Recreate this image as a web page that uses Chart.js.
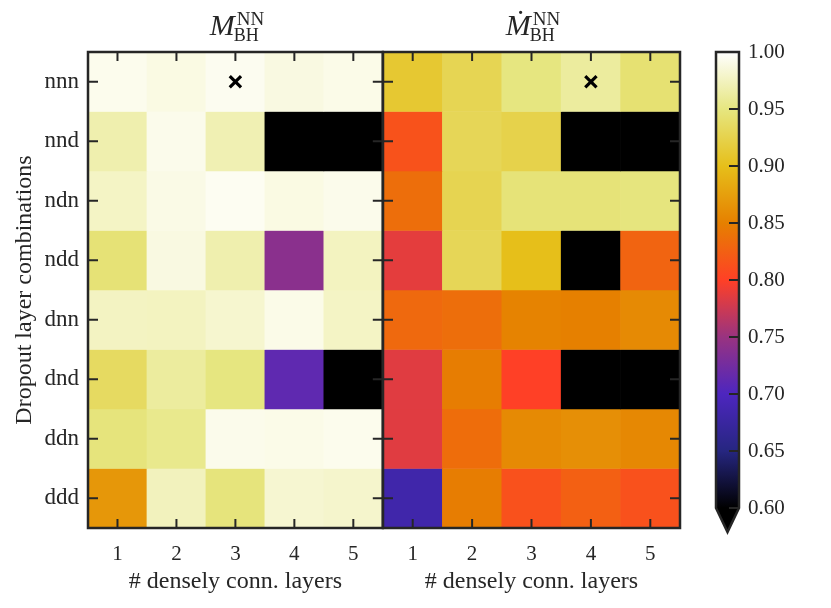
<!doctype html>
<html lang="en">
  <head>
    <title>Dropout heatmaps</title>
    <meta charset="utf-8">
    <style>
        * { margin: 0; padding: 0; box-sizing: border-box; }
        body { background: #fff; width: 831px; height: 608px; overflow: hidden; }
        .panel { position: absolute; top: 0; height: 608px; }
        #massBox { left: 0; width: 394px; }
        #rateBox { left: 360px; width: 340px; }
        #barBox { left: 700px; width: 131px; }
    </style>
  </head>
  <body>
    <div class="panel" id="massBox"><canvas id="massChart"></canvas></div>
    <div class="panel" id="rateBox"><canvas id="rateChart"></canvas></div>
    <div class="panel" id="barBox"><canvas id="barChart"></canvas></div>

    <script src="https://cdn.jsdelivr.net/npm/chart.js@4.4.1/dist/chart.umd.min.js"></script>
    <script>
      // columns = number of dense layers, rows = dropout combination
      const columns = ['1', '2', '3', '4', '5'];
      const rowLabels = ['nnn', 'nnd', 'ndn', 'ndd', 'dnn', 'dnd', 'ddn', 'ddd'];

      // 1-MSE for M_BH (left panel), one array per row
      const massNNN = [0.993, 0.989, 0.994, 0.988, 0.991];
      const massNND = [0.968, 0.992, 0.970, 0.50, 0.50];
      const massNDN = [0.977, 0.990, 0.995, 0.989, 0.992];
      const massNDD = [0.945, 0.988, 0.968, 0.740, 0.975];
      const massDNN = [0.976, 0.975, 0.981, 0.991, 0.977];
      const massDND = [0.935, 0.962, 0.950, 0.712, 0.50];
      const massDDN = [0.948, 0.955, 0.992, 0.991, 0.993];
      const massDDD = [0.868, 0.974, 0.948, 0.982, 0.980];

      // 1-MSE for Mdot_BH (right panel)
      const rateNNN = [0.912, 0.928, 0.950, 0.962, 0.943];
      const rateNND = [0.814, 0.930, 0.924, 0.50, 0.50];
      const rateNDN = [0.836, 0.927, 0.946, 0.946, 0.949];
      const rateNDD = [0.787, 0.930, 0.900, 0.50, 0.828];
      const rateDNN = [0.832, 0.836, 0.852, 0.850, 0.858];
      const rateDND = [0.785, 0.848, 0.800, 0.50, 0.50];
      const rateDDN = [0.785, 0.835, 0.858, 0.862, 0.856];
      const rateDDD = [0.683, 0.848, 0.813, 0.825, 0.813];

      // best cell of each panel, marked with a cross
      const bestMass = ['3', 'nnn'];
      const bestRate = ['4', 'nnn'];

      const cbTicks = [0.60, 0.65, 0.70, 0.75, 0.80, 0.85, 0.90, 0.95, 1.00];
      const vmin = 0.6, vmax = 1.0;

      const massScores = [massNNN, massNND, massNDN, massNDD, massDNN, massDND, massDDN, massDDD];
      const rateScores = [rateNNN, rateNND, rateNDN, rateNDD, rateDNN, rateDND, rateDDN, rateDDD];

      // CMRmap colour stops
      const cmrStops = [
        [0.000, 0, 0, 0], [0.125, 38, 38, 128], [0.250, 77, 38, 191],
        [0.375, 153, 51, 128], [0.500, 255, 64, 38], [0.625, 230, 128, 0],
        [0.750, 230, 191, 26], [0.875, 230, 230, 128], [1.000, 255, 255, 255]
      ];

      function cmap(v) {
        let t = (v - vmin) / (vmax - vmin);
        if (t <= 0) return 'rgb(0,0,0)';
        if (t >= 1) t = 1;
        for (let k = 1; k < cmrStops.length; k++) {
          const a = cmrStops[k - 1], b = cmrStops[k];
          if (t <= b[0]) {
            const f = (t - a[0]) / (b[0] - a[0]);
            const c = [1, 2, 3].map(n => Math.round(a[n] + f * (b[n] - a[n])));
            return 'rgb(' + c.join(',') + ')';
          }
        }
      }

      const FONT = "'Liberation Serif', 'DejaVu Serif', serif";
      const INK = '#262626';
      Chart.defaults.font.family = FONT;
      Chart.defaults.color = INK;

      function line(ctx, x1, y1, x2, y2) {
        ctx.beginPath(); ctx.moveTo(x1, y1); ctx.lineTo(x2, y2); ctx.stroke();
      }

      // frame with inward ticks on all four sides + panel title
      const framePlugin = {
        id: 'frame',
        afterDraw(chart, args, opts) {
          const {ctx, chartArea: a, scales: {x, y}} = chart;
          ctx.save();
          ctx.strokeStyle = INK;
          ctx.lineWidth = 2;
          columns.forEach((c, j) => {
            const px = x.getPixelForValue(j);
            line(ctx, px, a.bottom, px, a.bottom - 9);
            line(ctx, px, a.top, px, a.top + 9);
          });
          rowLabels.forEach((r, i) => {
            const py = y.getPixelForValue(i);
            line(ctx, a.left, py, a.left + 10, py);
            line(ctx, a.right, py, a.right - 10, py);
          });
          ctx.lineWidth = 2.5;
          ctx.strokeRect(a.left, a.top, a.right - a.left, a.bottom - a.top);

          // title  M^NN_BH
          const cx = (a.left + a.right) / 2;
          ctx.fillStyle = INK;
          ctx.textBaseline = 'alphabetic';
          ctx.font = 'italic 30px ' + FONT;
          const wM = ctx.measureText('M').width;
          ctx.font = '19px ' + FONT;
          const wNN = ctx.measureText('NN').width;
          const x0 = cx - (wM + wNN + 1) / 2 + 1;
          ctx.font = 'italic 30px ' + FONT;
          ctx.textAlign = 'left';
          ctx.fillText(opts.symbol, x0, 35);
          ctx.font = '19px ' + FONT;
          ctx.fillText('NN', x0 + wM + 2, 25);
          ctx.font = '18px ' + FONT;
          ctx.fillText('BH', x0 + wM - 1, 41);
          ctx.restore();
        }
      };

      function heatmapConfig(scores, best, symbol, showRows, pad) {
        return {
          type: 'bar',
          data: {
            labels: columns,
            datasets: [
              {
                type: 'scatter',
                data: [{x: best[0], y: rowLabels.indexOf(best[1])}],
                pointStyle: 'crossRot',
                radius: 8,
                borderWidth: 3.2,
                borderColor: '#000',
                order: 0
              }
            ].concat(rowLabels.map((row, i) => ({
              label: row,
              data: columns.map(() => [i - 0.5, i + 0.5]),
              backgroundColor: scores[i].map(cmap),
              borderWidth: 0,
              barPercentage: 1,
              categoryPercentage: 1,
              grouped: false,
              order: 1
            })))
          },
          options: {
            responsive: true,
            maintainAspectRatio: false,
            animation: false,
            layout: { padding: pad },
            plugins: {
              legend: { display: false },
              tooltip: { enabled: false },
              frame: { symbol: symbol }
            },
            scales: {
              x: {
                grid: { display: false, drawTicks: false },
                border: { display: false },
                ticks: { padding: 14, font: { size: 21 } },
                title: {
                  display: true,
                  text: '# densely conn. layers',
                  font: { size: 24, lineHeight: 1 },
                  padding: { top: 0, bottom: 14 }
                },
                afterFit: s => { s.height = 80; s.paddingLeft = 0; s.paddingRight = 0; }
              },
              y: {
                type: 'linear',
                reverse: true,
                min: -0.5,
                max: 7.5,
                display: showRows,
                afterBuildTicks: s => { s.ticks = rowLabels.map((r, i) => ({value: i})); },
                grid: { display: false, drawTicks: false },
                border: { display: false },
                ticks: { padding: 9, font: { size: 23 }, callback: v => rowLabels[v] },
                title: {
                  display: true,
                  text: 'Dropout layer combinations',
                  font: { size: 24, lineHeight: 1 },
                  padding: { top: 13, bottom: 0 }
                },
                afterFit: s => { if (showRows) s.width = 88; }
              }
            }
          },
          plugins: [framePlugin]
        };
      }

      new Chart(document.getElementById('massChart'),
        heatmapConfig(massScores, bestMass, 'M', true, {top: 52, right: 3, left: 0, bottom: 0}));
      new Chart(document.getElementById('rateChart'),
        heatmapConfig(rateScores, bestRate, '\u1E40', false, {top: 52, right: 20, left: 23, bottom: 0}));

      // colour bar
      const barPlugin = {
        id: 'cbar',
        afterDraw(chart) {
          const {ctx, chartArea: a, scales: {y}} = chart;
          const yb = y.getPixelForValue(vmin);
          const tip = yb + 24;
          const mid = (a.left + a.right) / 2;
          ctx.save();
          ctx.fillStyle = '#000';
          ctx.beginPath();
          ctx.moveTo(a.left, yb); ctx.lineTo(a.right, yb); ctx.lineTo(mid, tip); ctx.closePath();
          ctx.fill();
          ctx.strokeStyle = INK;
          ctx.lineWidth = 2;
          cbTicks.forEach(v => {
            const py = y.getPixelForValue(v);
            line(ctx, a.right, py, a.right - 10, py);
          });
          ctx.lineWidth = 2.5;
          ctx.beginPath();
          ctx.moveTo(a.left, y.getPixelForValue(vmax));
          ctx.lineTo(a.right, y.getPixelForValue(vmax));
          ctx.lineTo(a.right, yb);
          ctx.lineTo(mid, tip);
          ctx.lineTo(a.left, yb);
          ctx.closePath();
          ctx.stroke();
          ctx.translate(806, (a.top + a.bottom) / 2);
          ctx.rotate(-Math.PI / 2);
          ctx.fillStyle = INK;
          ctx.font = '22px ' + FONT;
          ctx.textAlign = 'center';
          ctx.textBaseline = 'middle';
          ctx.fillText('1-MSE', 0, 0);
          ctx.restore();
        }
      };

      new Chart(document.getElementById('barChart'), {
        type: 'bar',
        data: {
          labels: [''],
          datasets: [{
            data: [[vmin, vmax]],
            backgroundColor(c) {
              const chart = c.chart;
              const y = chart.scales.y;
              if (!chart.chartArea || !y) return '#000';
              const g = chart.ctx.createLinearGradient(0, y.getPixelForValue(vmin), 0, y.getPixelForValue(vmax));
              cmrStops.forEach(s => g.addColorStop(s[0], 'rgb(' + s[1] + ',' + s[2] + ',' + s[3] + ')'));
              return g;
            },
            borderWidth: 0,
            barPercentage: 1,
            categoryPercentage: 1
          }]
        },
        options: {
          responsive: true,
          maintainAspectRatio: false,
          animation: false,
          layout: { padding: {top: 52, left: 16, bottom: 100, right: 0} },
          plugins: { legend: { display: false }, tooltip: { enabled: false } },
          scales: {
            x: { display: false },
            y: {
              position: 'right',
              min: vmin,
              max: vmax,
              afterBuildTicks: s => { s.ticks = cbTicks.map(v => ({value: v})); },
              grid: { display: false, drawTicks: false },
              border: { display: false },
              ticks: { padding: 9, font: { size: 21 }, callback: v => v.toFixed(2) },
              afterFit: s => { s.width = 92; }
            }
          }
        },
        plugins: [barPlugin]
      });
    </script>
  </body>
</html>
